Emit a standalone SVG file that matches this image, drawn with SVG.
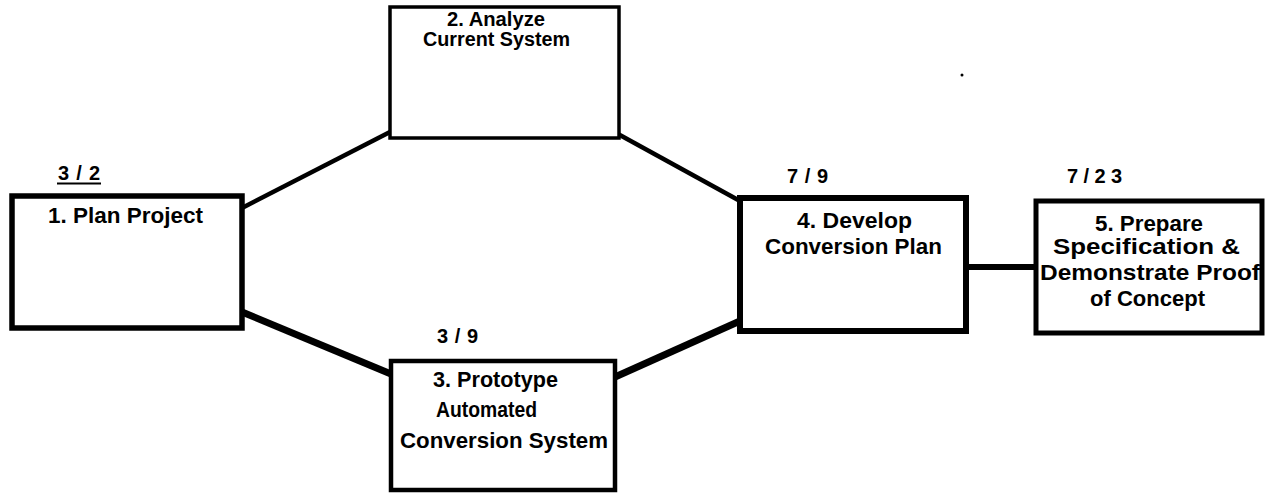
<svg xmlns="http://www.w3.org/2000/svg" width="1269" height="494" viewBox="0 0 1269 494">
  <style>
    .box { fill: #ffffff; stroke: #000000; stroke-linejoin: miter; }
    .lbl { font-family: "Liberation Sans", Arial, sans-serif; font-size: 21.5px; font-weight: bold; fill: #000000; }
    .sm { font-size: 20px; }
    .date { font-family: "Liberation Sans", Arial, sans-serif; font-size: 20px; font-weight: bold; fill: #000000; }
    .link { fill: none; stroke: #000000; stroke-linecap: butt; }
  </style>
  <rect width="1269" height="494" fill="#ffffff"/>

  <!-- connectors between the tasks -->
  <g id="connectors">
    <line class="link" x1="242" y1="208" x2="390" y2="132" stroke-width="4.5"/>
    <line class="link" x1="242" y1="312" x2="391" y2="374" stroke-width="7"/>
    <line class="link" x1="618" y1="134" x2="740" y2="201" stroke-width="4.5"/>
    <line class="link" x1="615" y1="377" x2="740" y2="321" stroke-width="7"/>
    <line class="link" x1="966" y1="267" x2="1036" y2="267" stroke-width="6"/>
  </g>

  <!-- task 1 -->
  <g id="task1">
    <rect class="box" x="12" y="196" width="230" height="132" stroke-width="5.5"/>
    <text class="date" x="58" y="180" textLength="42" lengthAdjust="spacing">3/2</text>
    <line x1="57" y1="183.5" x2="101" y2="183.5" stroke="#000" stroke-width="2"/>
    <text class="lbl" x="48" y="223" textLength="155" lengthAdjust="spacingAndGlyphs">1. Plan Project</text>
  </g>

  <!-- task 2 -->
  <g id="task2">
    <rect class="box" x="390" y="7" width="229" height="131" stroke-width="3.5"/>
    <text class="lbl sm" x="447" y="26" textLength="98" lengthAdjust="spacingAndGlyphs">2. Analyze</text>
    <text class="lbl sm" x="423" y="46" textLength="147" lengthAdjust="spacingAndGlyphs">Current System</text>
  </g>

  <!-- task 3 -->
  <g id="task3">
    <rect class="box" x="391" y="361" width="224" height="129" stroke-width="4.5"/>
    <text class="date" x="437" y="343" textLength="41" lengthAdjust="spacing">3/9</text>
    <text class="lbl" x="433" y="387" textLength="125" lengthAdjust="spacingAndGlyphs">3. Prototype</text>
    <text class="lbl" x="436" y="417" textLength="101" lengthAdjust="spacingAndGlyphs">Automated</text>
    <text class="lbl" x="400" y="448" textLength="208" lengthAdjust="spacingAndGlyphs">Conversion System</text>
  </g>

  <!-- task 4 -->
  <g id="task4">
    <rect class="box" x="740" y="198" width="226" height="133" stroke-width="6"/>
    <text class="date" x="787" y="183" textLength="41" lengthAdjust="spacing">7/9</text>
    <text class="lbl" x="797" y="228" textLength="115" lengthAdjust="spacingAndGlyphs">4. Develop</text>
    <text class="lbl" x="765" y="254" textLength="177" lengthAdjust="spacingAndGlyphs">Conversion Plan</text>
  </g>

  <!-- task 5 -->
  <g id="task5">
    <rect class="box" x="1036" y="201" width="226" height="132" stroke-width="5"/>
    <text class="date" x="1067" y="183" textLength="55" lengthAdjust="spacing">7/23</text>
    <text class="lbl" x="1095" y="231" textLength="108" lengthAdjust="spacingAndGlyphs">5. Prepare</text>
    <text class="lbl" x="1053" y="254" textLength="187" lengthAdjust="spacingAndGlyphs">Specification &amp;</text>
    <text class="lbl" x="1040" y="280" textLength="220" lengthAdjust="spacingAndGlyphs">Demonstrate Proof</text>
    <text class="lbl" x="1090" y="306" textLength="115" lengthAdjust="spacingAndGlyphs">of Concept</text>
  </g>

  <!-- stray mark near the top right -->
  <circle cx="962" cy="75" r="1.5" fill="#000"/>
</svg>
